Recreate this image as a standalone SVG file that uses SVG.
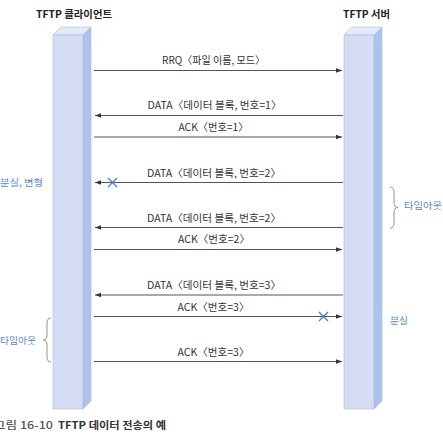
<svg xmlns="http://www.w3.org/2000/svg" width="443" height="440" viewBox="0 0 443 440">
<style>
.t{font-family:"Noto Sans CJK KR","Noto Sans",sans-serif;}
.title{font-size:10.5px;font-weight:bold;fill:#222;}
.lbl{font-size:10.5px;fill:#333;}
.blue{font-size:9.5px;fill:#5a8ad4;}
.cap{font-size:10.5px;font-weight:bold;fill:#333;}
.capg{font-weight:500;fill:#555;}
.front{fill:#d4ddf4;stroke:#a9b8dc;stroke-width:0.6;}
.side{fill:#aec2ee;stroke:#a9b8dc;stroke-width:0.6;}
.top{fill:#e6eaf8;stroke:#a9b8dc;stroke-width:0.6;}
.msg{stroke:#555;stroke-width:1;fill:none;}
.x{stroke:#4a7fd6;stroke-width:1.4;fill:none;}
.brace{stroke:#888;stroke-width:0.9;fill:none;}
</style>
<defs>
<marker id="ah" markerUnits="userSpaceOnUse" markerWidth="7" markerHeight="6" refX="6" refY="3" orient="auto">
<path d="M0,0.7 L6,3 L0,5.3 Z" fill="#333"/>
</marker>
</defs>
<rect width="443" height="440" fill="#fff"/>
<g id="client">
<polygon class="top" points="53,35 61,27 91,27 83,35"/>
<polygon class="side" points="83,35 91,27 91,401 83,409"/>
<rect class="front" x="53" y="35" width="30" height="374"/>
<text class="t title" x="74" y="18" text-anchor="middle" textLength="76" lengthAdjust="spacingAndGlyphs">TFTP 클라이언트</text>
</g>
<g id="server">
<polygon class="top" points="344,35 352,27 382,27 374,35"/>
<polygon class="side" points="374,35 382,27 382,401 374,409"/>
<rect class="front" x="344" y="35" width="30" height="374"/>
<text class="t title" x="366.5" y="18" text-anchor="middle" textLength="47" lengthAdjust="spacingAndGlyphs">TFTP 서버</text>
</g>
<g id="connectors">
<line class="msg" x1="94" y1="70.5" x2="342" y2="70.5" marker-end="url(#ah)"/>
<line class="msg" x1="343" y1="115.5" x2="95" y2="115.5" marker-end="url(#ah)"/>
<line class="msg" x1="94" y1="137" x2="342" y2="137" marker-end="url(#ah)"/>
<line class="msg" x1="343" y1="182.5" x2="95" y2="182.5" marker-end="url(#ah)"/>
<line class="msg" x1="343" y1="227.5" x2="95" y2="227.5" marker-end="url(#ah)"/>
<line class="msg" x1="94" y1="249.5" x2="342" y2="249.5" marker-end="url(#ah)"/>
<line class="msg" x1="343" y1="295" x2="95" y2="295" marker-end="url(#ah)"/>
<line class="msg" x1="94" y1="316.5" x2="342" y2="316.5" marker-end="url(#ah)"/>
<line class="msg" x1="94" y1="361.5" x2="342" y2="361.5" marker-end="url(#ah)"/>
</g>
<g id="labels">
<text class="t lbl" x="162" y="64" textLength="103" lengthAdjust="spacingAndGlyphs">RRQ〈파일 이름, 모드〉</text>
<text class="t lbl" x="147.5" y="109" textLength="134" lengthAdjust="spacingAndGlyphs">DATA〈데이터 블록, 번호=1〉</text>
<text class="t lbl" x="178.5" y="131" textLength="70" lengthAdjust="spacingAndGlyphs">ACK〈번호=1〉</text>
<text class="t lbl" x="147" y="176.5" textLength="134" lengthAdjust="spacingAndGlyphs">DATA〈데이터 블록, 번호=2〉</text>
<text class="t lbl" x="147" y="221.5" textLength="134" lengthAdjust="spacingAndGlyphs">DATA〈데이터 블록, 번호=2〉</text>
<text class="t lbl" x="178" y="243" textLength="72" lengthAdjust="spacingAndGlyphs">ACK〈번호=2〉</text>
<text class="t lbl" x="147" y="288.5" textLength="134" lengthAdjust="spacingAndGlyphs">DATA〈데이터 블록, 번호=3〉</text>
<text class="t lbl" x="177.5" y="310.5" textLength="72" lengthAdjust="spacingAndGlyphs">ACK〈번호=3〉</text>
<text class="t lbl" x="177.5" y="355.5" textLength="72" lengthAdjust="spacingAndGlyphs">ACK〈번호=3〉</text>
</g>
<g id="losses">
<path class="x" d="M108,178 L117,187 M117,178 L108,187"/>
<path class="x" d="M319,312 L328,321 M328,312 L319,321"/>
</g>
<g id="annotations">
<text class="t blue" x="0" y="185.5" textLength="43" lengthAdjust="spacingAndGlyphs">분실, 변형</text>
<path class="brace" d="M390,187 Q394,187 394,192 L394,202 Q394,207.5 398,207.5 Q394,207.5 394,213 L394,223 Q394,228 390,228"/>
<text class="t blue" x="404" y="209" textLength="38" lengthAdjust="spacingAndGlyphs">타임아웃</text>
<text class="t blue" x="0" y="344" textLength="36" lengthAdjust="spacingAndGlyphs">타임아웃</text>
<path class="brace" d="M51,318 Q47,318 47,323 L47,335 Q47,340 43,340 Q47,340 47,345 L47,357 Q47,362 51,362"/>
<text class="t blue" x="390" y="323.5" textLength="18" lengthAdjust="spacingAndGlyphs">분실</text>
</g>
<g id="caption">
<text class="t cap capg" x="-6" y="429" textLength="59" lengthAdjust="spacingAndGlyphs">그림 16-10</text>
<text class="t cap" x="58" y="429" textLength="108" lengthAdjust="spacingAndGlyphs">TFTP 데이터 전송의 예</text>
</g>
</svg>
